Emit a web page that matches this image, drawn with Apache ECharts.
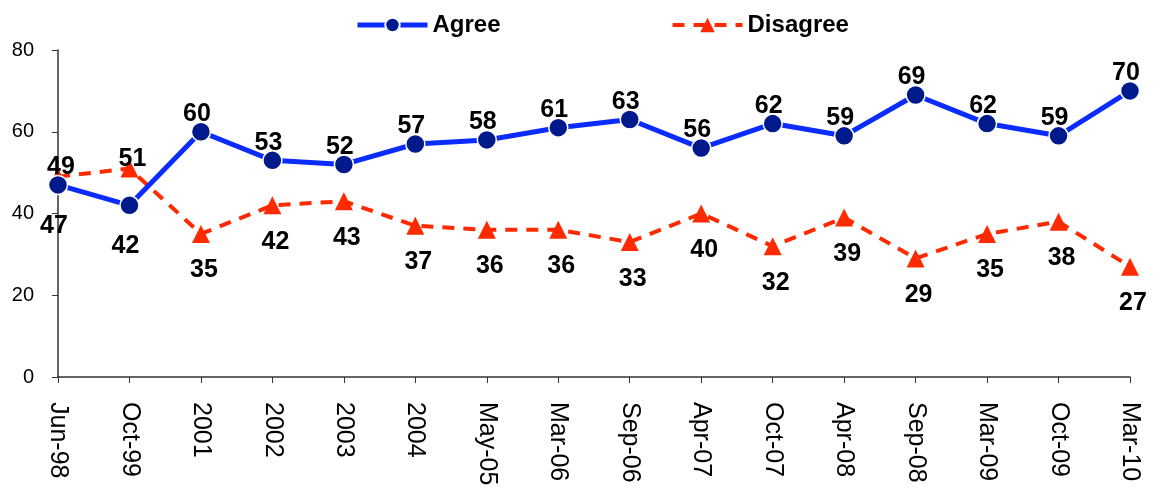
<!DOCTYPE html>
<html>
<head>
<meta charset="utf-8">
<script src="https://cdn.jsdelivr.net/npm/echarts@6/dist/echarts.min.js"></script>
<style>
  html, body { margin: 0; padding: 0; background: #fff; }
  #main { width: 1158px; height: 489px; }
</style>
</head>
<body>
<div id="main"></div>
<script>
// survey dates
var categories = ['Jun-98', 'Oct-99', '2001', '2002', '2003', '2004', 'May-05', 'Mar-06',
    'Sep-06', 'Apr-07', 'Oct-07', 'Apr-08', 'Sep-08', 'Mar-09', 'Oct-09', 'Mar-10'];
var agree = [47, 42, 60, 53, 52, 57, 58, 61, 63, 56, 62, 59, 69, 62, 59, 70];
var disagree = [49, 51, 35, 42, 43, 37, 36, 36, 33, 40, 32, 39, 29, 35, 38, 27];
var yTicks = [0, 20, 40, 60, 80];

// first two points have their labels on the other side
var flipped = [0, 1];

var font = 'Arial, "Liberation Sans", sans-serif';

function withLabels(values, normal, other, otherDistance) {
    return values.map(function (v, i) {
        if (flipped.indexOf(i) < 0) return { value: v, label: { position: normal } };
        return { value: v, label: { position: other, distance: otherDistance } };
    });
}

var chart = echarts.init(document.getElementById('main'));
var option = {
    animation: false,
    textStyle: { fontFamily: font },
    legend: {
        top: 8,
        left: 350,
        itemWidth: 70,
        itemHeight: 18,
        itemGap: 170,
        textStyle: { fontSize: 24, fontWeight: 'bold', color: '#000', fontFamily: font },
        data: [
            { name: 'Agree', lineStyle: { width: 5 } },
            { name: 'Disagree', lineStyle: { width: 4 } }
        ]
    },
    grid: { left: 58, right: 28, top: 50, bottom: 112 },
    xAxis: {
        type: 'category',
        boundaryGap: false,
        data: categories,
        axisLine: { lineStyle: { color: '#333', width: 1.5 } },
        axisTick: { alignWithLabel: true, length: 6, lineStyle: { color: '#333' } },
        axisLabel: { rotate: -90, fontSize: 25, color: '#000', margin: 25, fontFamily: font }
    },
    yAxis: {
        type: 'value',
        min: yTicks[0],
        max: yTicks[yTicks.length - 1],
        interval: 20,
        splitLine: { show: false },
        axisLine: { show: true, lineStyle: { color: '#333', width: 1.5 } },
        axisTick: { show: true, inside: false, length: 6, lineStyle: { color: '#333' } },
        axisLabel: { fontSize: 20, color: '#000', margin: 24, fontFamily: font }
    },
    series: [
        {
            name: 'Agree',
            type: 'line',
            z: 3,
            data: withLabels(agree, 'top', 'bottom', 18),
            symbol: 'circle',
            symbolSize: 19,
            lineStyle: { color: '#0a2cff', width: 5 },
            itemStyle: { color: '#001a8c', borderColor: '#fff', borderWidth: 1.5 },
            label: {
                show: true,
                fontSize: 25,
                fontWeight: 'bold',
                color: '#000',
                distance: -5,
                offset: [-4, 0],
                fontFamily: font
            }
        },
        {
            name: 'Disagree',
            type: 'line',
            z: 2,
            data: withLabels(disagree, 'bottom', 'top', -12),
            symbol: 'triangle',
            symbolSize: 18,
            lineStyle: { color: '#ff2a00', width: 4, type: [12, 9] },
            itemStyle: { color: '#ff2a00' },
            label: {
                show: true,
                fontSize: 25,
                fontWeight: 'bold',
                color: '#000',
                distance: 15,
                offset: [3, 0],
                fontFamily: font
            }
        }
    ]
};
chart.setOption(option);
</script>
</body>
</html>
